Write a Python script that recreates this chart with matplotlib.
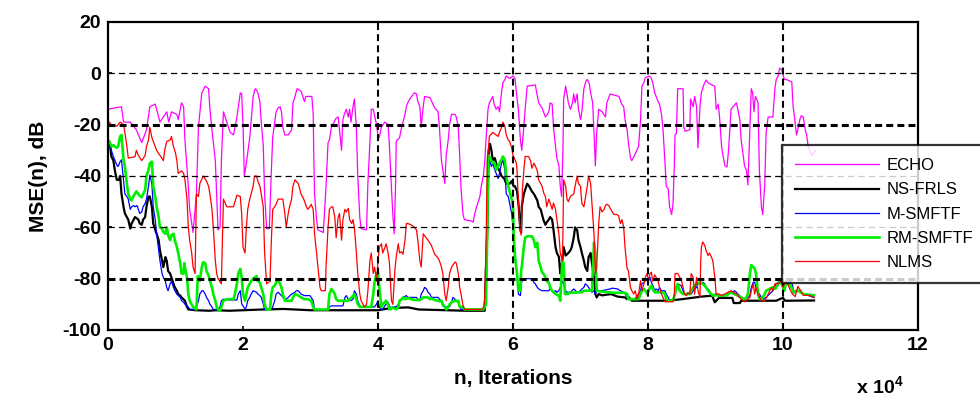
import matplotlib
matplotlib.use("Agg")
import matplotlib.pyplot as plt

plt.rcParams['lines.scale_dashes'] = False

# x in units of 1e4 iterations, y in dB
echo_x = [0.0, 0.2, 0.23, 0.33, 0.42, 0.5, 0.57, 0.62, 0.7, 0.77, 0.82, 0.87, 0.9, 0.94, 1.02, 1.04, 1.09, 1.12, 1.14, 1.19,
          1.21, 1.26, 1.31, 1.34, 1.39, 1.44, 1.49, 1.51, 1.54, 1.59, 1.61, 1.63, 1.66, 1.68, 1.71, 1.76, 1.81, 1.86, 1.91, 1.96,
          1.98, 2.0, 2.02, 2.05, 2.08, 2.1, 2.12, 2.15, 2.18, 2.2, 2.22, 2.25, 2.27, 2.3, 2.32, 2.35, 2.39, 2.42, 2.44, 2.47,
          2.49, 2.52, 2.55, 2.57, 2.59, 2.62, 2.67, 2.72, 2.74, 2.77, 2.8, 2.86, 2.91, 2.93, 3.02, 3.04, 3.05, 3.06, 3.09, 3.11,
          3.19, 3.23, 3.26, 3.28, 3.31, 3.38, 3.41, 3.46, 3.48, 3.5, 3.53, 3.56, 3.58, 3.6, 3.63, 3.65, 3.68, 3.7, 3.73, 3.75,
          3.83, 3.85, 3.88, 3.9, 3.93, 3.97, 4.0, 4.02, 4.05, 4.1, 4.15, 4.17, 4.2, 4.22, 4.24, 4.26, 4.27, 4.32, 4.35, 4.37,
          4.4, 4.42, 4.44, 4.47, 4.54, 4.57, 4.59, 4.62, 4.64, 4.67, 4.69, 4.77, 4.84, 4.89, 4.91, 4.94, 4.99, 5.01, 5.04, 5.06,
          5.09, 5.14, 5.16, 5.19, 5.21, 5.23, 5.26, 5.28, 5.38, 5.41, 5.43, 5.46, 5.51, 5.53, 5.56, 5.58, 5.6, 5.63, 5.65, 5.68,
          5.7, 5.72, 5.75, 5.78, 5.8, 5.83, 5.85, 5.88, 5.9, 5.95, 6.0, 6.03, 6.06, 6.08, 6.11, 6.13, 6.16, 6.18, 6.21, 6.33,
          6.38, 6.43, 6.48, 6.51, 6.53, 6.55, 6.58, 6.6, 6.63, 6.65, 6.68, 6.7, 6.72, 6.74, 6.75, 6.78, 6.8, 6.82, 6.85, 6.88,
          6.9, 6.92, 6.95, 6.97, 7.0, 7.02, 7.05, 7.08, 7.1, 7.13, 7.15, 7.18, 7.2, 7.22, 7.24, 7.27, 7.32, 7.37, 7.39, 7.44,
          7.5, 7.57, 7.61, 7.64, 7.66, 7.69, 7.71, 7.74, 7.76, 7.8, 7.86, 7.89, 7.91, 7.94, 7.96, 8.02, 8.05, 8.07, 8.1, 8.12,
          8.15, 8.17, 8.2, 8.22, 8.25, 8.27, 8.3, 8.32, 8.35, 8.37, 8.39, 8.4, 8.42, 8.44, 8.52, 8.53, 8.55, 8.62, 8.63, 8.67,
          8.69, 8.72, 8.74, 8.77, 8.79, 8.82, 8.84, 8.86, 8.89, 8.96, 8.99, 9.01, 9.04, 9.06, 9.09, 9.11, 9.14, 9.17, 9.19, 9.21,
          9.23, 9.26, 9.31, 9.33, 9.36, 9.38, 9.41, 9.43, 9.46, 9.48, 9.51, 9.53, 9.55, 9.57, 9.59, 9.61, 9.63, 9.65, 9.68, 9.7,
          9.73, 9.75, 9.78, 9.85, 9.88, 9.9, 9.93, 9.95, 9.98, 10.0, 10.02, 10.05, 10.1, 10.13, 10.15, 10.17, 10.2, 10.22, 10.25, 10.27,
          10.3, 10.33, 10.35, 10.37, 10.42, 10.48]
echo_y = [-14, -13, -19, -19, -22, -27, -22, -13, -12, -19, -17, -15, -19, -15, -16, -18, -11.5, -13, -26, -44,
          -53, -62, -47, -21, -7.6, -5, -6, -14, -22, -34, -47, -61, -60, -34, -15, -19, -23, -24, -17, -7.6,
          -8, -20, -40, -35, -29, -25, -19, -9, -6, -6.5, -7.6, -11, -19, -28, -47, -60.5, -60.5, -38, -25, -19,
          -15, -13.5, -13, -15, -21, -24, -24, -22, -11.5, -9, -6, -7, -11, -9, -9, -16, -34, -47, -57, -61,
          -62, -44, -27, -26, -21, -17.5, -17, -30, -18, -16, -14, -17, -14, -19, -13, -10, -21, -40, -56, -60.5,
          -61, -43, -27, -14, -14, -19, -24, -25, -21, -19, -20, -28.5, -45, -55, -62.5, -44, -26.5, -25, -21, -19,
          -16, -13, -11.5, -10, -7.6, -8, -11, -13, -21, -13, -9, -9.5, -13.5, -15, -21, -34, -43, -32, -26, -20,
          -16, -16, -17, -21, -32, -45, -55, -57, -57.5, -58, -55, -52, -48, -44, -40, -35, -26, -14, -11.5, -10,
          -9, -12, -14, -13, -15, -7.6, -3.7, -2.4, -1, -2, -1, -2, -10, -14, -26, -30, -21, -14, -5, -4.5,
          -11.5, -13.5, -17, -16, -15, -11.5, -12, -21, -28.5, -33, -36, -44, -48, -30, -10, -5, -8, -11.5, -14, -11.5,
          -8, -11.5, -8, -14, -18, -15, -6, -3, -2.4, -4, -7.6, -11.5, -23, -36, -23, -14, -15, -17, -11.5, -8,
          -8.5, -9, -12, -13, -18, -22, -27, -33, -34, -32, -28.5, -18, -5, -3.5, -1.7, -1, -2, -3.7, -7.6, -9,
          -11, -12, -16, -21, -34, -44, -45, -52, -55, -51, -36, -24, -23.5, -6, -6, -21, -22.6, -22, -10, -13,
          -9, -13, -29, -13, -7.6, -5, -3.7, -2.6, -3.7, -4.7, -5, -14, -12, -17, -28.5, -32, -36, -36.5, -31, -23,
          -14, -13, -11.5, -14, -18, -26, -32, -36, -38, -43.5, -21, -6, -7.6, -15, -9, -10, -11.5, -38, -52, -55,
          -43, -23, -17, -17, -6, -2.4, -1, 2, 1.5, -0.4, -2.4, -2.4, -3, -3.3, -13, -17, -24, -22, -18, -16.5,
          -17, -22, -24, -28, -32, -30]

nsfrls_x = [0.0, 0.03, 0.05, 0.08, 0.1, 0.13, 0.16, 0.18, 0.2, 0.23, 0.25, 0.28, 0.3, 0.33, 0.35, 0.38, 0.4, 0.43, 0.45, 0.47,
            0.5, 0.52, 0.55, 0.57, 0.6, 0.62, 0.65, 0.67, 0.7, 0.72, 0.75, 0.77, 0.8, 0.82, 0.85, 0.87, 0.89, 0.92, 0.94, 0.97,
            0.99, 1.02, 1.04, 1.07, 1.09, 1.14, 1.17, 1.19, 1.3, 1.5, 1.6, 1.8, 2.0, 2.3, 2.6, 3.0, 3.5, 4.0, 4.2, 4.45,
            4.6, 5.0, 5.3, 5.58, 5.62, 5.64, 5.66, 5.68, 5.7, 5.73, 5.76, 5.8, 5.83, 5.87, 5.9, 5.95, 5.98, 6.01, 6.03, 6.06,
            6.08, 6.11, 6.12, 6.13, 6.16, 6.21, 6.24, 6.28, 6.31, 6.33, 6.36, 6.38, 6.41, 6.43, 6.45, 6.48, 6.5, 6.53, 6.55, 6.58,
            6.6, 6.63, 6.65, 6.68, 6.7, 6.73, 6.75, 6.78, 6.82, 6.85, 6.87, 6.9, 6.92, 6.95, 6.97, 7.0, 7.02, 7.05, 7.07, 7.1,
            7.12, 7.15, 7.17, 7.2, 7.22, 7.24, 7.27, 7.32, 7.45, 7.55, 7.66, 7.69, 7.72, 7.76, 8.03, 8.3, 8.5, 8.79, 8.95, 8.99,
            9.05, 9.25, 9.27, 9.36, 9.38, 9.9, 9.95, 10.0, 10.03, 10.46]
nsfrls_y = [-27, -28, -32.4, -34, -37.6, -41.5, -41.5, -40, -47, -52, -54.6, -56, -57, -60.5, -58.5, -57, -56, -56.6, -57, -58.5,
            -59, -57, -56, -52, -48, -48, -52, -58.5, -61, -62.5, -65, -69, -73, -75.5, -71.6, -73, -77, -78, -79.5, -82,
            -83.4, -84.7, -86, -86.6, -87.3, -88.6, -91, -92, -92.3, -92.5, -92.3, -92.5, -92.3, -92, -91.8, -92.3, -92.3, -92.3, -91.4, -91.2,
            -92, -92.3, -92.5, -92.5, -60, -30, -27.5, -30, -34, -33, -36, -38, -40, -41, -43, -43, -42, -44, -44, -46,
            -50.7, -61, -62, -52, -47, -43, -44, -46, -47, -48, -49.5, -52, -53, -55, -57, -59, -58, -57, -56, -57,
            -61, -67.7, -70, -71.5, -78, -73, -67.7, -71, -70, -69, -67.7, -64, -60, -61, -65, -67.7, -70, -73, -75.5, -77,
            -71.6, -70, -74, -79.5, -86, -87.3, -86, -86.5, -86, -87, -87.3, -88, -87.3, -88.6, -88.6, -88.6, -88, -87, -86.6, -89.2,
            -87.5, -87.5, -89.5, -89.5, -88.6, -88.6, -88, -87.5, -88.6, -88.5]

msmftf_x = [0.0, 0.03, 0.05, 0.08, 0.1, 0.13, 0.15, 0.18, 0.2, 0.23, 0.25, 0.28, 0.3, 0.33, 0.35, 0.38, 0.4, 0.43, 0.45, 0.47,
            0.5, 0.52, 0.55, 0.57, 0.6, 0.62, 0.65, 0.67, 0.7, 0.72, 0.75, 0.77, 0.8, 0.82, 0.85, 0.87, 0.89, 0.92, 0.94, 0.97,
            0.99, 1.02, 1.04, 1.07, 1.09, 1.12, 1.14, 1.17, 1.19, 1.21, 1.29, 1.31, 1.34, 1.36, 1.39, 1.41, 1.44, 1.46, 1.49, 1.51,
            1.54, 1.56, 1.63, 1.66, 1.68, 1.71, 1.8, 1.91, 1.93, 1.96, 1.98, 2.01, 2.03, 2.05, 2.07, 2.1, 2.12, 2.15, 2.2, 2.22,
            2.25, 2.27, 2.3, 2.32, 2.42, 2.44, 2.47, 2.49, 2.52, 2.57, 2.62, 2.64, 2.67, 2.72, 2.77, 2.79, 2.82, 2.86, 2.91, 2.99,
            3.01, 3.04, 3.06, 3.26, 3.28, 3.31, 3.48, 3.51, 3.53, 3.56, 3.6, 3.63, 3.65, 3.68, 3.7, 3.73, 3.75, 3.95, 3.98, 4.0,
            4.02, 4.05, 4.07, 4.1, 4.12, 4.15, 4.17, 4.2, 4.22, 4.27, 4.3, 4.32, 4.35, 4.37, 4.42, 4.44, 4.57, 4.59, 4.62, 4.64,
            4.67, 4.69, 4.72, 4.74, 4.77, 4.79, 4.89, 4.91, 4.94, 4.96, 4.99, 5.06, 5.09, 5.11, 5.14, 5.19, 5.21, 5.23, 5.56, 5.58,
            5.6, 5.62, 5.63, 5.65, 5.68, 5.7, 5.73, 5.75, 5.78, 5.8, 5.83, 5.85, 5.88, 5.9, 5.93, 5.95, 5.98, 6.0, 6.02, 6.05,
            6.07, 6.08, 6.11, 6.12, 6.13, 6.16, 6.28, 6.31, 6.33, 6.36, 6.38, 6.43, 6.53, 6.55, 6.58, 6.6, 6.63, 6.65, 6.68, 6.7,
            6.73, 6.75, 6.78, 6.8, 6.85, 6.9, 6.95, 7.0, 7.02, 7.05, 7.07, 7.1, 7.12, 7.15, 7.17, 7.2, 7.22, 7.24, 7.3, 7.35,
            7.44, 7.47, 7.55, 7.59, 7.64, 7.66, 7.69, 7.71, 7.8, 7.86, 7.89, 7.91, 7.94, 7.96, 7.99, 8.01, 8.03, 8.05, 8.07, 8.1,
            8.12, 8.15, 8.17, 8.2, 8.25, 8.27, 8.3, 8.32, 8.35, 8.37, 8.4, 8.42, 8.44, 8.49, 8.52, 8.54, 8.64, 8.67, 8.69, 8.72,
            8.74, 8.79, 8.81, 8.84, 8.86, 8.89, 8.91, 8.94, 8.96, 9.0, 9.06, 9.16, 9.19, 9.25, 9.28, 9.31, 9.33, 9.36, 9.38, 9.43,
            9.48, 9.51, 9.53, 9.56, 9.58, 9.6, 9.63, 9.65, 9.68, 9.7, 9.75, 9.8, 9.85, 9.88, 9.9, 9.93, 9.95, 9.98, 10.02, 10.05,
            10.08, 10.11, 10.14, 10.16, 10.2, 10.3, 10.39, 10.46]
msmftf_y = [-26, -27, -30, -32.4, -33.7, -35.7, -36.3, -34.4, -33.7, -41.5, -47, -48, -49, -53, -52, -51.5, -52, -51.5, -53, -54.6,
            -54, -52, -50.7, -49, -44, -39.6, -43, -52, -57, -62.5, -69, -73, -78, -79.5, -81, -83.4, -84.7, -82, -81, -83.4,
            -84.7, -86, -86.6, -87.3, -88.6, -89.2, -90, -90.6, -91, -92, -92, -91, -88.6, -86, -84.7, -84.7, -86, -87.3, -88.6, -90,
            -91, -92, -92, -91, -88.6, -88, -88.3, -88.3, -86, -84.7, -89.8, -91, -92, -91, -88.6, -87.3, -86, -84.7, -85.3, -86,
            -86.6, -87.3, -89.8, -92, -92, -91, -88.6, -86, -85.3, -86.6, -88, -88, -87.3, -86, -85.3, -84.7, -84.7, -86, -86.6, -86.6,
            -87.3, -88.6, -92, -92, -91, -90.6, -90.6, -87.3, -86.6, -88, -88.6, -88, -84.7, -86, -88.6, -90.6, -91, -91, -89.8, -88.6,
            -91, -92, -92, -90.6, -90, -89.2, -90.6, -92, -91, -91, -90, -88.6, -88, -87.3, -86.6, -87.3, -87.3, -88, -88.6, -86,
            -84.7, -83.4, -84, -85.3, -86, -87.3, -87.3, -88, -88.6, -90.6, -91, -91, -89.2, -87.3, -88, -89.2, -90.6, -92, -92, -91,
            -90, -60, -31, -33.7, -36.3, -35, -37.6, -39, -41, -39, -35, -33.7, -37.6, -47, -48, -50.7, -54.6, -60, -67.7, -75.5,
            -80.8, -86, -86.6, -83.4, -81, -80, -80, -81.5, -82, -83.4, -84, -84.7, -84.7, -84, -84.7, -85.3, -84.7, -85.3, -84.7, -83.4,
            -81, -82, -84.7, -85.3, -85.3, -84, -85.3, -84.7, -84, -83.4, -82, -82.7, -83.4, -84.7, -85.3, -84.7, -86, -84.7, -84.7, -84.5,
            -84, -83.7, -84, -84.7, -85.3, -86, -87, -88, -88, -86, -84.7, -82, -81.5, -80.8, -80, -80.8, -79.5, -81.5, -82.5, -84.7,
            -84, -84.7, -83.4, -84.7, -84.7, -86, -87.3, -88.3, -88.6, -88.6, -86, -83.4, -82, -82.7, -84.7, -86, -86, -84.7, -84, -83.4,
            -82, -82, -81.4, -82, -83.4, -84, -84.7, -86, -86.6, -86, -86.6, -86.6, -85.3, -85.3, -84.7, -85.3, -86, -86.6, -87.3, -88,
            -87.3, -86.6, -83.4, -81.4, -81.4, -83.4, -85.3, -86, -87.3, -88, -87.3, -86, -84.7, -83.4, -82, -81.4, -80.8, -81.4, -82, -80.5,
            -81.5, -81, -82.5, -85, -84.5, -86, -86.7, -87.4]

rmsmftf_x = [0.0, 0.03, 0.05, 0.08, 0.1, 0.13, 0.15, 0.18, 0.2, 0.23, 0.25, 0.28, 0.3, 0.33, 0.35, 0.38, 0.4, 0.42, 0.45, 0.47,
             0.5, 0.52, 0.55, 0.57, 0.6, 0.62, 0.65, 0.67, 0.7, 0.72, 0.75, 0.77, 0.8, 0.82, 0.85, 0.87, 0.89, 0.92, 0.94, 0.97,
             0.99, 1.02, 1.04, 1.07, 1.09, 1.12, 1.13, 1.14, 1.17, 1.19, 1.21, 1.24, 1.26, 1.31, 1.33, 1.36, 1.39, 1.41, 1.44, 1.46,
             1.49, 1.51, 1.54, 1.56, 1.59, 1.61, 1.63, 1.66, 1.68, 1.71, 1.76, 1.86, 1.88, 1.91, 1.93, 1.96, 1.98, 2.0, 2.03, 2.05,
             2.07, 2.1, 2.12, 2.15, 2.2, 2.22, 2.25, 2.27, 2.3, 2.32, 2.35, 2.4, 2.42, 2.44, 2.47, 2.49, 2.52, 2.54, 2.57, 2.59,
             2.62, 2.72, 2.74, 2.77, 2.82, 2.86, 2.91, 2.96, 3.01, 3.04, 3.06, 3.26, 3.28, 3.31, 3.33, 3.36, 3.38, 3.41, 3.56, 3.58,
             3.61, 3.63, 3.65, 3.68, 3.7, 3.73, 3.9, 3.93, 3.95, 3.98, 4.0, 4.02, 4.05, 4.07, 4.1, 4.12, 4.15, 4.17, 4.22, 4.27,
             4.3, 4.32, 4.35, 4.37, 4.4, 4.42, 4.47, 4.49, 4.54, 4.62, 4.64, 4.67, 4.74, 4.77, 4.79, 4.84, 4.89, 4.91, 4.94, 4.96,
             4.99, 5.01, 5.04, 5.06, 5.09, 5.14, 5.16, 5.19, 5.21, 5.26, 5.28, 5.56, 5.58, 5.6, 5.62, 5.63, 5.65, 5.7, 5.73, 5.75,
             5.78, 5.8, 5.83, 5.85, 5.88, 5.9, 5.93, 5.95, 5.98, 6.0, 6.01, 6.03, 6.06, 6.08, 6.11, 6.12, 6.13, 6.16, 6.18, 6.21,
             6.28, 6.31, 6.33, 6.36, 6.38, 6.41, 6.43, 6.45, 6.48, 6.5, 6.53, 6.55, 6.58, 6.6, 6.63, 6.68, 6.7, 6.73, 6.75, 6.77,
             6.8, 6.85, 7.02, 7.05, 7.17, 7.2, 7.22, 7.24, 7.3, 7.5, 7.66, 7.69, 7.71, 7.86, 7.89, 7.91, 7.94, 7.96, 7.99, 8.01,
             8.03, 8.05, 8.07, 8.1, 8.22, 8.25, 8.27, 8.3, 8.37, 8.4, 8.42, 8.44, 8.47, 8.49, 8.52, 8.62, 8.64, 8.67, 8.69, 8.74,
             8.77, 8.81, 8.84, 8.86, 8.89, 8.94, 8.96, 9.0, 9.01, 9.04, 9.16, 9.19, 9.23, 9.28, 9.33, 9.38, 9.43, 9.46, 9.48, 9.51,
             9.53, 9.56, 9.58, 9.6, 9.63, 9.65, 9.68, 9.7, 9.73, 9.75, 9.8, 9.85, 9.88, 9.9, 9.93, 9.95, 9.98, 10.0, 10.02, 10.05,
             10.1, 10.14, 10.16, 10.22, 10.3, 10.46]
rmsmftf_y = [-26, -27, -28.5, -28, -28.5, -29, -28.5, -24.6, -24, -33.7, -36.3, -43, -47, -49, -49.5, -47.7, -47, -46, -47, -47.7,
             -48.3, -47, -45.5, -40, -37.6, -35, -34.4, -44, -48, -52, -56, -60, -60.5, -61.8, -62.5, -60, -63, -65, -63, -62.5,
             -65, -67.7, -70, -74, -78, -78, -74, -75.5, -79.5, -86, -88.6, -90, -91, -92, -79, -80.8, -75.5, -73.6, -74, -77,
             -78.8, -80.8, -83.4, -86, -88.6, -91, -92, -92.5, -91, -88.6, -88, -88, -86, -82, -78, -76.2, -79.5, -86, -88.6, -86,
             -83.4, -82, -81, -80, -79, -81, -81.5, -83.4, -86, -90, -92, -92, -86, -83.4, -82.7, -81.4, -80.8, -81.4, -83.4, -86,
             -88.6, -88.6, -87.3, -86, -86.6, -87.3, -88, -88, -88.6, -91, -92, -92, -86, -84, -84.7, -86, -88, -88.6, -88.6, -88,
             -87.3, -86.6, -86, -88, -90, -91, -91, -86, -81, -78, -77.5, -83.4, -91, -90, -89.2, -88.6, -90, -92, -91.2, -92,
             -91, -88.6, -88, -87.3, -88, -87.7, -87.7, -88, -88.3, -88.3, -88, -87.3, -87.3, -88, -87.7, -88.3, -88.6, -88.8, -88.6, -90,
             -91, -92, -91, -90, -89.2, -88.6, -88.8, -88.6, -91, -91, -92, -92, -91, -90, -60, -32, -32.4, -35, -35, -37.6,
             -36.3, -35, -33.7, -32.4, -33.7, -40, -44, -46, -49, -52, -63, -71.6, -78, -84.7, -84.7, -77, -75.5, -67.7, -64, -63.5,
             -63.5, -65, -67.7, -66, -73, -75.5, -77.5, -78, -79.5, -81, -81.5, -83.4, -84.7, -85.3, -86, -86.6, -88.6, -73, -74, -86,
             -86, -85.5, -85.3, -84.7, -84.7, -66, -70, -84.7, -85, -85.5, -85.5, -86, -88, -88, -86, -84.7, -84, -84.7, -86, -84.7,
             -83.4, -82.7, -84, -85.3, -85.3, -86, -88, -88.6, -88.6, -86, -83.4, -82, -84.7, -85.3, -86, -86, -84.7, -83.4, -82.7, -82,
             -81.4, -82, -82.7, -83.4, -84.7, -86, -86.6, -86.6, -86, -86.6, -86.6, -86, -85.3, -86, -86.6, -87.3, -88, -87.3, -86, -78,
             -74.7, -75.5, -76, -78, -86, -88, -88, -87.3, -86, -84.7, -84, -83.4, -84, -83.4, -82, -81.4, -82, -83.4, -84.7, -81,
             -82.5, -84, -85.5, -84.5, -86, -86.5]

nlms_x = [0.0, 0.02, 0.05, 0.13, 0.18, 0.23, 0.25, 0.28, 0.3, 0.4, 0.42, 0.45, 0.5, 0.55, 0.57, 0.6, 0.62, 0.65, 0.7, 0.72,
          0.77, 0.82, 0.84, 0.87, 0.92, 0.94, 0.97, 1.0, 1.02, 1.04, 1.09, 1.12, 1.14, 1.17, 1.19, 1.21, 1.24, 1.26, 1.29, 1.31,
          1.34, 1.36, 1.41, 1.46, 1.49, 1.51, 1.54, 1.56, 1.59, 1.61, 1.63, 1.68, 1.69, 1.71, 1.76, 1.86, 1.88, 1.91, 1.96, 1.98,
          2.0, 2.03, 2.05, 2.07, 2.1, 2.12, 2.15, 2.17, 2.2, 2.22, 2.25, 2.27, 2.3, 2.32, 2.35, 2.4, 2.42, 2.44, 2.47, 2.49,
          2.52, 2.59, 2.62, 2.64, 2.67, 2.69, 2.72, 2.74, 2.77, 2.82, 2.86, 2.9, 2.94, 2.96, 2.99, 3.01, 3.04, 3.06, 3.09, 3.11,
          3.14, 3.16, 3.22, 3.23, 3.26, 3.28, 3.31, 3.33, 3.36, 3.38, 3.41, 3.43, 3.46, 3.48, 3.51, 3.53, 3.56, 3.58, 3.61, 3.63,
          3.65, 3.68, 3.7, 3.73, 3.75, 3.78, 3.8, 3.83, 3.85, 3.88, 3.9, 3.93, 3.95, 3.98, 4.0, 4.02, 4.05, 4.07, 4.1, 4.12,
          4.15, 4.17, 4.2, 4.22, 4.25, 4.27, 4.3, 4.32, 4.35, 4.37, 4.4, 4.42, 4.44, 4.49, 4.54, 4.57, 4.59, 4.62, 4.64, 4.67,
          4.74, 4.79, 4.84, 4.89, 4.91, 4.94, 4.96, 4.99, 5.01, 5.04, 5.06, 5.09, 5.14, 5.16, 5.19, 5.21, 5.23, 5.26, 5.28, 5.53,
          5.56, 5.58, 5.6, 5.62, 5.63, 5.65, 5.7, 5.75, 5.78, 5.8, 5.83, 5.85, 5.88, 5.9, 5.93, 5.95, 5.98, 6.0, 6.02, 6.05,
          6.06, 6.08, 6.1, 6.12, 6.14, 6.16, 6.18, 6.23, 6.26, 6.28, 6.31, 6.33, 6.36, 6.38, 6.41, 6.43, 6.46, 6.48, 6.5, 6.53,
          6.55, 6.58, 6.6, 6.63, 6.65, 6.68, 6.7, 6.73, 6.74, 6.75, 6.78, 6.8, 6.82, 6.85, 6.87, 6.9, 6.92, 6.95, 6.97, 7.0,
          7.02, 7.05, 7.07, 7.1, 7.12, 7.15, 7.17, 7.2, 7.22, 7.24, 7.27, 7.29, 7.32, 7.35, 7.37, 7.39, 7.42, 7.44, 7.47, 7.5,
          7.54, 7.565, 7.59, 7.615, 7.64, 7.66, 7.69, 7.71, 7.74, 7.76, 7.79, 7.81, 7.84, 7.86, 7.89, 7.91, 7.94, 7.96, 7.985, 8.01,
          8.03, 8.05, 8.07, 8.1, 8.12, 8.15, 8.17, 8.2, 8.25, 8.37, 8.39, 8.4, 8.44, 8.47, 8.49, 8.52, 8.54, 8.57, 8.59, 8.62,
          8.64, 8.67, 8.69, 8.72, 8.74, 8.77, 8.78, 8.79, 8.81, 8.84, 8.86, 8.89, 8.91, 8.94, 8.96, 8.99, 9.01, 9.05, 9.09, 9.23,
          9.31, 9.38, 9.43, 9.48, 9.51, 9.53, 9.56, 9.58, 9.6, 9.63, 9.68, 9.73, 9.78, 9.83, 9.85, 9.88, 9.93, 9.98, 10.0, 10.02,
          10.05, 10.1, 10.14, 10.18, 10.22, 10.26, 10.3, 10.39, 10.46]
nlms_y = [-22, -19, -20, -20.6, -19, -20, -23, -28.5, -33, -32.5, -30, -32, -34, -32, -28.5, -26, -21, -25, -28.5, -30,
          -32, -34, -30, -26.5, -26, -24.6, -28.5, -31, -34, -39, -38, -39, -41.5, -49, -60, -65, -70, -75.5, -78, -47,
          -48, -43, -40, -42, -44, -47, -53, -60, -73, -78, -80, -82, -70, -49, -52, -52, -50, -47.5, -48, -54.6,
          -67.7, -70, -60, -53, -49, -47, -44, -40, -40, -42, -44, -47, -52, -70, -82, -81, -65, -53, -52, -51,
          -49, -49, -54.6, -60, -54.6, -52, -49, -44, -41.5, -43, -47, -49, -52, -53, -52, -51, -53, -62.5, -70, -75.5,
          -83.4, -84.7, -84.7, -75.5, -60, -53, -52, -52, -56, -64, -56, -54.6, -65, -57, -53, -54, -52.6, -57, -58.5, -57,
          -60, -70, -78, -86, -88.6, -90, -91, -90, -84.7, -73, -70, -78, -75.5, -81, -73, -67.7, -66.4, -70, -68, -66.4,
          -70, -74, -88.6, -90, -76.8, -71.6, -66.4, -70, -69.5, -70.5, -65, -58.5, -58.5, -59, -60, -61, -65, -73, -75.5, -62.5,
          -65, -67, -70.5, -72, -73, -75.5, -78, -86, -88.6, -83.4, -78, -75.5, -73.5, -74, -78, -83.4, -86, -90.6, -92, -92,
          -91.5, -88.6, -68, -34, -31, -24.6, -23, -24, -24.6, -23, -21, -19, -20.6, -24, -26, -26.5, -29, -32, -33, -35,
          -38, -50, -60, -63, -45, -38, -32.4, -32.4, -34, -37, -35, -36, -38, -41.5, -43, -44, -47, -48, -52, -49,
          -50.5, -53, -50.5, -53, -57, -62.5, -70, -73, -62.5, -41.5, -44, -49, -50, -48, -47.5, -47, -44, -40, -43, -44,
          -50.7, -52, -49, -44, -40, -43, -50.7, -62.5, -78, -75.5, -58.5, -52, -54, -53, -51.5, -51, -51.5, -52.6, -54, -55,
          -55, -55.5, -58.5, -57, -60, -68, -76, -77, -83.4, -84.7, -86, -84.7, -88, -86, -80.8, -84.7, -82, -79.5, -78, -80.8,
          -78, -77.5, -81, -78.5, -79.5, -81, -83.4, -86, -89, -89, -86, -78, -78, -79.5, -80, -83.4, -86, -86.6, -85.4, -86,
          -78, -79.5, -86, -79.5, -84.7, -87.3, -74, -68, -65.7, -67, -69, -71, -70, -71.6, -73, -79.5, -86, -86, -86.6, -84.7,
          -86, -88, -89, -88, -87.3, -84.7, -82, -86, -83.4, -86, -88.6, -88.6, -86, -83.4, -84.7, -82, -82, -80.8, -83.4, -82,
          -81, -84, -86, -87, -83, -84.5, -86.5, -86.5, -87.2]

series = [
    ("ECHO", echo_x, echo_y, "#ff00ff", 0.9),
    ("NS-FRLS", nsfrls_x, nsfrls_y, "black", 1.6),
    ("M-SMFTF", msmftf_x, msmftf_y, "#0000ff", 0.9),
    ("RM-SMFTF", rmsmftf_x, rmsmftf_y, "#00ee00", 1.9),
    ("NLMS", nlms_x, nlms_y, "#ff0000", 0.9),
]

x_ticks = [0, 2, 4, 6, 8, 10, 12]
y_ticks = [-100, -80, -60, -40, -20, 0, 20]

fig = plt.figure(figsize=(9.8, 3.99), dpi=100)
ax = fig.add_axes([108 / 980, 1 - 330 / 399, 810 / 980, 308 / 399])

for name, xs, ys, color, lw in series:
    ax.plot(xs, ys, color=color, lw=lw, label=name, zorder=2)

# grid (drawn by hand: MATLAB-style dashes, x=2 line missing in the original)
for yv in [0, -40, -60]:
    ax.axhline(yv, color="black", lw=0.9, ls=(0, (4.5, 3.0)), zorder=3)
for yv in [-20, -80]:
    ax.axhline(yv, color="black", lw=2.2, ls=(0, (5.0, 3.0)), zorder=3)
for xv in [4, 6, 8, 10]:
    ax.axvline(xv, color="black", lw=1.5, ls=(0, (5.0, 3.0)), zorder=3)

ax.set_xlim(0, 12)
ax.set_ylim(-100, 20)
ax.set_xticks(x_ticks)
ax.set_yticks(y_ticks)
ax.set_xticklabels([str(t) for t in x_ticks])
ax.set_yticklabels([str(t) for t in y_ticks])
ax.tick_params(direction="in", length=3, width=1.2, pad=5,
               labelsize=14)
for lab in ax.get_xticklabels() + ax.get_yticklabels():
    lab.set_fontweight("bold")
    lab.set_family("Liberation Sans")
for sp in ax.spines.values():
    sp.set_linewidth(1.6)

ax.set_xlabel("n, Iterations", fontsize=15, fontweight="bold", family="Liberation Sans", labelpad=11)
ax.set_ylabel("MSE(n), dB", fontsize=15, fontweight="bold", family="Liberation Sans", labelpad=10)
fig.text(856 / 980, 1 - 394 / 399, r"x 10$^{\mathregular{4}}$", fontsize=14, fontweight="bold",
         family="Liberation Sans", va="baseline")

leg = ax.legend(loc="upper left", bbox_to_anchor=(782 / 980, 1 - 145 / 399), bbox_transform=fig.transFigure,
                prop={"family": "Liberation Sans", "size": 12}, frameon=True, fancybox=False,
                borderpad=0.8, labelspacing=0.55, handlelength=5.0, handletextpad=0.5, borderaxespad=0)
leg.get_frame().set_edgecolor("black")
leg.get_frame().set_linewidth(1.6)
leg.set_zorder(5)

fig.savefig("out.png", dpi=100)
